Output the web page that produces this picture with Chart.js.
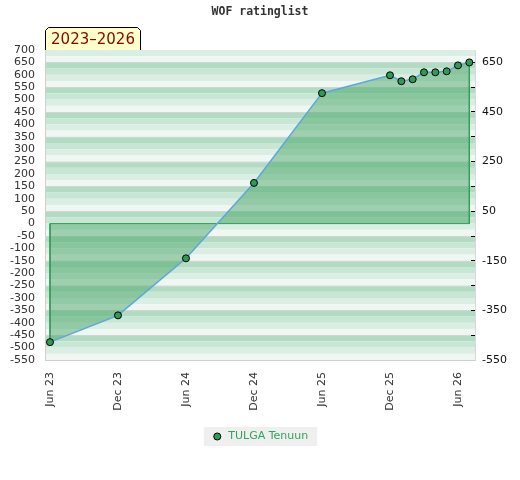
<!DOCTYPE html>
<html lang="en">
<head>
<meta charset="UTF-8">
<title>WOF ratinglist</title>
<style>
  html, body { margin: 0; padding: 0; background: #fff; }
</style>
</head>
<body>
<canvas id="ratingChart" width="520" height="480"></canvas>
<script src="https://cdn.jsdelivr.net/npm/chart.js"></script>
<script>
// months counted from Jun 23
const monthIndex = [0, 6, 12, 18, 24, 30, 31, 32, 33, 34, 35, 36, 37];
const rating = [-478, -370, -140, 164, 526, 598, 574, 582, 610, 610, 614, 638, 650];
const tickMonths = [0, 6, 12, 18, 24, 30, 36];
const tickLabels = ['Jun 23', 'Dec 23', 'Jun 24', 'Dec 24', 'Jun 25', 'Dec 25', 'Jun 26'];
const rightTickValues = [-550, -450, -350, -250, -150, -50, 50, 150, 250, 350, 450, 550, 650];
const rightTickLabels = ['-550', '', '-350', '', '-150', '', '50', '', '250', '', '450', '', '650'];
const playerName = 'TULGA Tenuun';
const periodText = '2023–2026';

const points = monthIndex.map((m, i) => ({ x: m, y: rating[i] }));
const last = monthIndex.length - 1;
// outline of the filled area, closed on the zero line
const outline = [
    { x: monthIndex[last], y: rating[last] },
    { x: monthIndex[last], y: 0 },
    { x: monthIndex[0], y: 0 },
    { x: monthIndex[0], y: rating[0] }
];

Chart.defaults.font.family = "'DejaVu Sans', sans-serif";

// striped background, 4 shades per 100 points
const bandColors = ['#b1dcc3', '#c7e6d3', '#dbeee3', '#eff7f2'];
const stripes = {
    id: 'stripes',
    beforeDraw(chart) {
        const { ctx, chartArea: a, scales: { y } } = chart;
        ctx.save();
        ctx.fillStyle = '#ffffff';
        ctx.fillRect(0, 0, chart.width, chart.height);
        ctx.beginPath();
        ctx.rect(a.left, a.top, a.right - a.left, a.bottom - a.top);
        ctx.clip();
        for (let v = 750; v > -550; v -= 25) {
            const i = Math.round((((650 - v) % 100) + 100) % 100 / 25) % 4;
            const y1 = y.getPixelForValue(v);
            const y2 = y.getPixelForValue(v - 25);
            ctx.fillStyle = bandColors[i];
            ctx.fillRect(a.left, y1, a.right - a.left, y2 - y1);
        }
        ctx.strokeStyle = '#d4d4d4';
        ctx.lineWidth = 1;
        for (let v = 650; v >= -550; v -= 100) {
            const py = Math.round(y.getPixelForValue(v)) + 0.5;
            ctx.beginPath();
            ctx.moveTo(a.left, py);
            ctx.lineTo(a.right, py);
            ctx.stroke();
        }
        ctx.restore();

        // grey box behind the legend entry
        const hit = chart.legend && chart.legend.legendHitBoxes[0];
        if (hit) {
            ctx.save();
            ctx.fillStyle = '#efefef';
            ctx.fillRect(hit.left - 8, hit.top + hit.height / 2 - 9.5, hit.width + 17, 19);
            ctx.restore();
        }
    }
};

// yellow tab with the period above the plot
const tab = {
    id: 'tab',
    afterDraw(chart) {
        const { ctx, chartArea: a } = chart;
        const x0 = a.left + 0.5, x1 = a.left + 95.5;
        const y0 = a.top - 23 + 0.5, y1 = a.top;
        const c = 3;
        ctx.save();
        ctx.beginPath();
        ctx.moveTo(x0, y1);
        ctx.lineTo(x0, y0 + c);
        ctx.lineTo(x0 + c, y0);
        ctx.lineTo(x1 - c, y0);
        ctx.lineTo(x1, y0 + c);
        ctx.lineTo(x1, y1);
        ctx.fillStyle = '#ffffcc';
        ctx.fill();
        ctx.strokeStyle = '#000';
        ctx.lineWidth = 1;
        ctx.stroke();
        ctx.fillStyle = '#8b0000';
        ctx.font = "15px 'DejaVu Sans', sans-serif";
        ctx.textAlign = 'center';
        ctx.textBaseline = 'middle';
        ctx.fillText(periodText, (x0 + x1) / 2, (y0 + y1) / 2 + 1);
        ctx.restore();
    }
};

new Chart(document.getElementById('ratingChart'), {
    type: 'line',
    data: {
        datasets: [{
            label: playerName,
            data: points,
            borderColor: '#5ea6dc',
            borderWidth: 1.5,
            backgroundColor: 'rgba(68, 164, 101, 0.48)',
            fill: 'origin',
            pointRadius: 3.5,
            pointBorderWidth: 1,
            pointBorderColor: '#000',
            pointBackgroundColor: '#2f9a58',
            tension: 0
        }, {
            label: 'outline',
            data: outline,
            borderColor: '#2e9e58',
            borderWidth: 1,
            pointRadius: 0,
            fill: false,
            tension: 0
        }]
    },
    options: {
        responsive: false,
        animation: false,
        layout: { padding: { top: 0, left: 0, right: 0, bottom: 28 } },
        plugins: {
            filler: { drawTime: 'beforeDatasetsDraw' },
            tooltip: { enabled: false },
            title: {
                display: true,
                text: 'WOF ratinglist',
                color: '#333',
                font: { family: "'DejaVu Sans Mono', monospace", size: 11.5, weight: 'bold' },
                padding: { top: 5.5, bottom: 30.7 }
            },
            legend: {
                position: 'bottom',
                labels: {
                    usePointStyle: true,
                    boxWidth: 11,
                    boxHeight: 5,
                    padding: 8,
                    color: '#2ea55c',
                    font: { size: 11 },
                    filter: item => item.datasetIndex === 0,
                    generateLabels(chart) {
                        const items = Chart.defaults.plugins.legend.labels.generateLabels(chart);
                        return items.map(item => Object.assign(item, {
                            fillStyle: '#2f9a58',
                            strokeStyle: '#000',
                            lineWidth: 1,
                            pointStyle: 'circle'
                        }));
                    }
                }
            }
        },
        scales: {
            x: {
                type: 'linear',
                min: -0.44,
                max: 37.5,
                afterBuildTicks: s => { s.ticks = tickMonths.map(v => ({ value: v })); },
                afterFit: s => { s.height = 63; },
                ticks: {
                    autoSkip: false,
                    minRotation: 90,
                    maxRotation: 90,
                    padding: 12,
                    color: '#333',
                    font: { size: 11 },
                    callback: (v, i) => tickLabels[i]
                },
                grid: { display: false, drawTicks: false },
                border: { display: true, color: '#d0d0d0' }
            },
            y: {
                position: 'left',
                min: -550,
                max: 700,
                afterFit: s => { s.width = 45; },
                ticks: { stepSize: 50, autoSkip: false, padding: 10, color: '#333', font: { size: 11 } },
                grid: { display: false, drawTicks: false },
                border: { display: true, color: '#d0d0d0' }
            },
            y2: {
                position: 'right',
                min: -550,
                max: 700,
                afterBuildTicks: s => { s.ticks = rightTickValues.map(v => ({ value: v })); },
                afterFit: s => { s.width = 45; },
                ticks: {
                    autoSkip: false,
                    padding: 11,
                    color: '#111',
                    font: { size: 11 },
                    callback: (v, i) => rightTickLabels[i]
                },
                grid: { display: true, drawOnChartArea: false, drawTicks: true, tickLength: -4, tickColor: '#000' },
                border: { display: true, color: '#d8d8d8' }
            }
        }
    },
    plugins: [stripes, tab]
});
</script>
</body>
</html>
